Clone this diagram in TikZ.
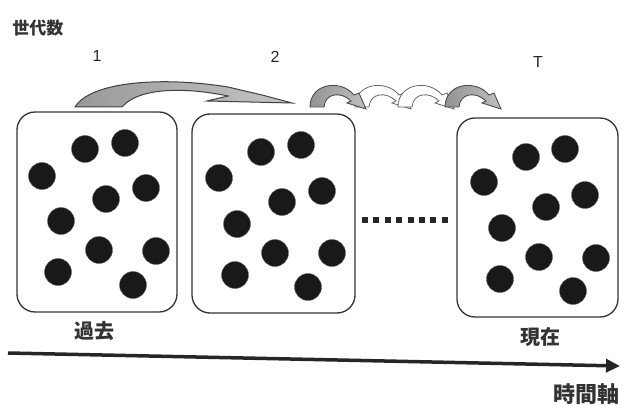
\documentclass[tikz,border=0pt]{standalone}
\usepackage{fontspec}
\setmainfont{Liberation Sans}
\newfontfamily\jp{Noto Sans CJK JP}
\usetikzlibrary{arrows.meta}
\tikzset{
  pool/.style={draw=black!80, line width=1.3pt, rounded corners=18pt, inner sep=0pt},
  ball/.style={circle, fill=black!90, draw=black!60, line width=0.4pt, minimum size=27pt, inner sep=0pt},
  lbl/.style={font=\jp\bfseries\fontsize{20}{20}\selectfont, text=black!80, inner sep=0pt},
  num/.style={font=\fontsize{16}{16}\selectfont, text=black!85, inner sep=0pt},
  bigarr/.style={left color=gray!80, right color=gray!45, draw=black!75, line width=1pt},
  grayarr/.style={left color=gray!85, right color=gray!50, draw=black!70, line width=0.9pt},
  whitearr/.style={fill=white, draw=black!60, line width=0.8pt},
}
\begin{document}
\begin{tikzpicture}[x=1pt,y=-1pt]
\useasboundingbox (0,0) rectangle (623,406);
% labels
\node[lbl, font=\jp\bfseries\fontsize{17}{17}\selectfont] (gen) at (38,28) {世代数};
\node[num] (g1) at (97,56) {1};
\node[num] (g2) at (275,57) {2};
\node[num] (gT) at (538,62) {T};
% boxes
\node[pool, minimum width=160pt, minimum height=200pt] (b1) at (97,212) {};
\node[pool, minimum width=163pt, minimum height=199pt] (b2) at (273.5,213.5) {};
\node[pool, minimum width=161pt, minimum height=199pt] (b3) at (537.5,217.5) {};
% balls box 1
\foreach \x/\y [count=\i] in {85/149,125/143,42/176,106/199,146/188,61/221,99/250,156/251,58/272,133/285}
  \node[ball] (a\i) at (\x,\y) {};
% balls box 2
\foreach \x/\y [count=\i] in {261/152,301/145,219/178,282/202,322/191,237/224,275/253,332/253,235/275,308/287}
  \node[ball] (c\i) at (\x,\y) {};
% balls box 3
\foreach \x/\y [count=\i] in {526/157,565/149,484/182,546/207,585/195,502/228,539/257,596/258,500/279,573/291}
  \node[ball] (e\i) at (\x,\y) {};
% dotted line
\coordinate (d0) at (362,220);
\coordinate (d1) at (448,220);
\draw[line width=6pt, dash pattern=on 6pt off 5.4pt, black!85] (d0) -- (d1);
% big curved arrow
\draw[bigarr] (75,107) .. controls (90,82) and (160,76) .. (228,87)
  -- (262,95) -- (292,103) -- (207,101) -- (228,96)
  .. controls (190,88) and (140,86) .. (122,107) -- cycle;
% small arrows
\foreach \sx/\st in {362/whitearr,405/whitearr,317/grayarr,452/grayarr}{
  \begin{scope}[shift={(\sx,107)}]
  \draw[\st] (-7,0) .. controls (-7,-24) and (24,-28) .. (37,-12)
    -- (42,-14) -- (49,2) -- (30,-4) -- (34,-6)
    .. controls (24,-16) and (8,-14) .. (7,0) -- cycle;
  \end{scope}
}
% time axis
\node[lbl] (past) at (94,331) {過去};
\node[lbl] (now) at (540,337) {現在};
\coordinate (t0) at (8,353);
\coordinate (t1) at (620,366);
\draw[line width=3.5pt, black!85, -{Triangle[length=14pt,width=13pt]}] (t0) -- (t1);
\node[lbl, anchor=east, font=\jp\bfseries\fontsize{22}{22}\selectfont] (axis) at (620,394) {時間軸};
\end{tikzpicture}
\end{document}
